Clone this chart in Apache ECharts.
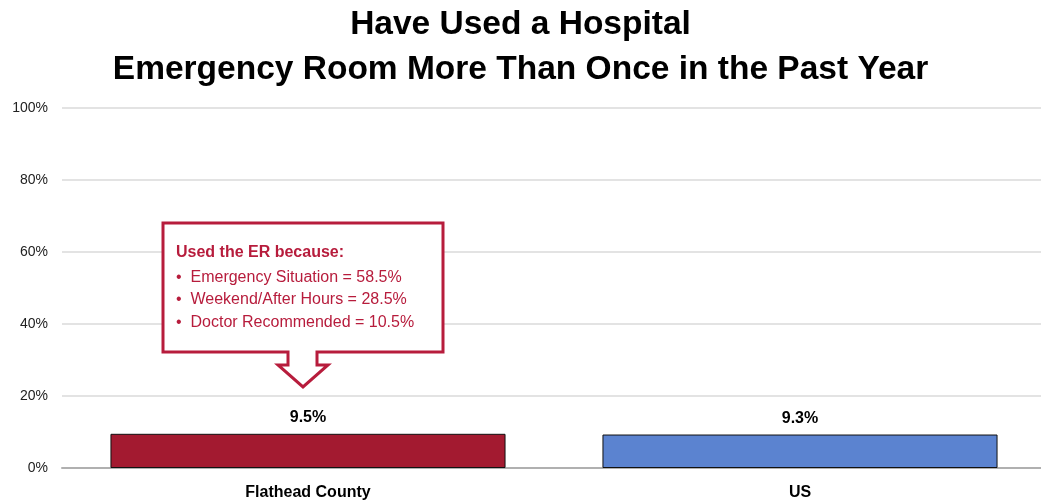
<!DOCTYPE html>
<html>
<head>
<meta charset="utf-8">
<script src="https://cdn.jsdelivr.net/npm/echarts@6/dist/echarts.min.js"></script>
<style>
  html, body { margin: 0; padding: 0; background: #fff; }
  #box1 { width: 1041px; height: 504px; }
</style>
</head>
<body>
<div id="box1"></div>
<script>
// data
var categories = ['Flathead County', 'US'];
var values = [9.5, 9.3];
var barColors = ['#a31a30', '#5b83d0'];
var yTicks = [0, 20, 40, 60, 80, 100];
var calloutTitle = 'Used the ER because:';
var calloutLines = [
  'Emergency Situation = 58.5%',
  'Weekend/After Hours = 28.5%',
  'Doctor Recommended = 10.5%'
];

var chart = echarts.init(document.getElementById('box1'));
var narrow = '"Liberation Sans Narrow", "Arial Narrow", "Liberation Sans", Arial, sans-serif';
var red = '#b71c3c';

var option = {
  animation: false,
  title: {
    text: 'Have Used a Hospital\nEmergency Room More Than Once in the Past Year',
    left: 'center',
    top: -3,
    textStyle: {
      fontFamily: '"Liberation Sans", Arial, sans-serif',
      fontWeight: 'bold',
      fontSize: 33.5,
      lineHeight: 45,
      color: '#000'
    }
  },
  grid: { left: 62, width: 984, top: 108, bottom: 36, outerBoundsMode: 'none' },
  xAxis: {
    type: 'category',
    data: categories,
    axisTick: { show: false },
    axisLine: { lineStyle: { color: '#b0b0b0', width: 2 } },
    axisLabel: {
      margin: 17,
      fontFamily: narrow,
      fontWeight: 'bold',
      fontSize: 16,
      color: '#000'
    }
  },
  yAxis: {
    type: 'value',
    min: yTicks[0],
    max: yTicks[yTicks.length - 1],
    interval: 20,
    axisLine: { show: false },
    axisTick: { show: false },
    splitLine: { lineStyle: { color: '#e3e3e3', width: 2 } },
    axisLabel: {
      margin: 14,
      formatter: '{value}%',
      fontFamily: narrow,
      fontSize: 14,
      color: '#222'
    }
  },
  series: [{
    type: 'bar',
    barWidth: '80.3%',
    data: values.map(function(v, i) {
      return { value: v, itemStyle: { color: barColors[i] } };
    }),
    itemStyle: { borderColor: '#111', borderWidth: 1 },
    label: {
      show: true,
      position: 'top',
      distance: 8,
      formatter: function(p) { return p.value.toFixed(1) + '%'; },
      fontFamily: narrow,
      fontWeight: 'bold',
      fontSize: 16,
      color: '#000'
    }
  }],
  graphic: [{
    type: 'polygon',
    shape: {
      points: [[163, 223], [443, 223], [443, 352], [317, 352], [317, 365],
               [328, 365], [303, 387], [278, 365], [288, 365], [288, 352], [163, 352]]
    },
    style: { fill: '#fff', stroke: red, lineWidth: 3, lineJoin: 'miter' },
    z: 10
  }, {
    type: 'text',
    left: 176,
    top: 245,
    z: 11,
    style: {
      text: calloutTitle,
      fill: red,
      font: 'bold 16px ' + narrow
    }
  }, {
    type: 'text',
    left: 176,
    top: 266,
    z: 11,
    style: {
      text: calloutLines.map(function(s) { return '•  ' + s; }).join('\n'),
      fill: red,
      font: '16px ' + narrow,
      lineHeight: 22.5
    }
  }]
};
chart.setOption(option);
</script>
</body>
</html>
